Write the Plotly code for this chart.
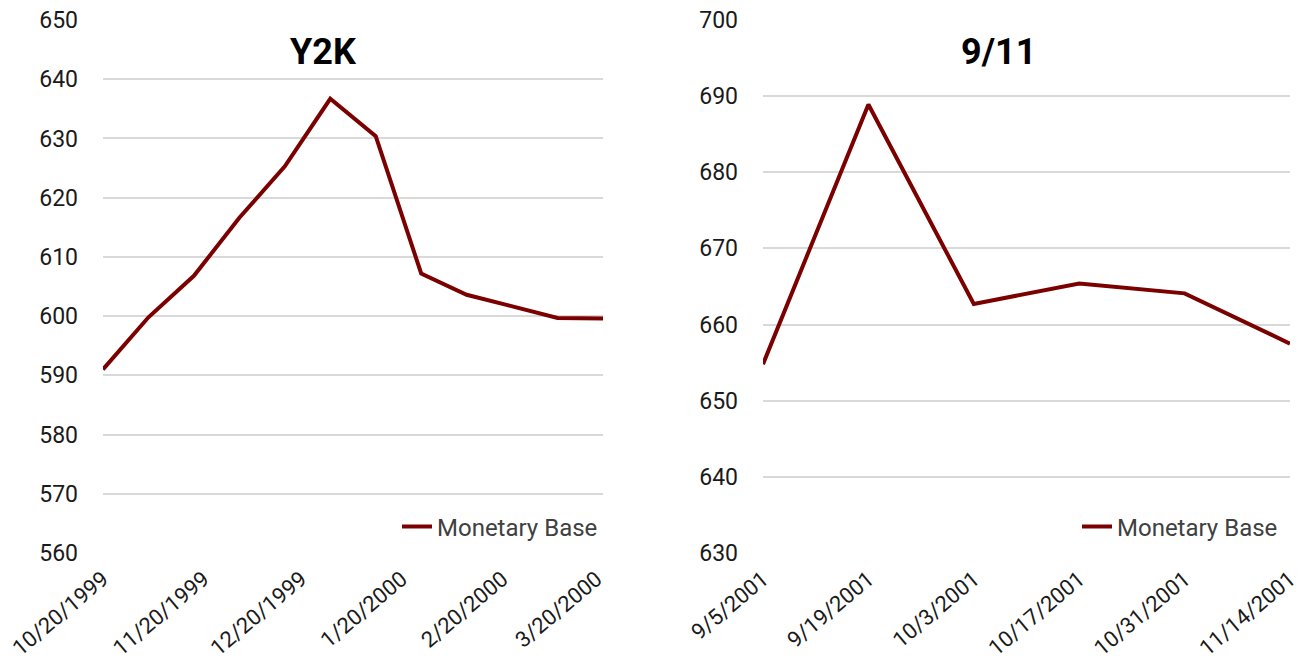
import plotly.graph_objects as go

# Monetary base around two liquidity events (billions of dollars)
y2k_dates = ["1999-10-20", "1999-11-03", "1999-11-17", "1999-12-01", "1999-12-15",
             "1999-12-29", "2000-01-12", "2000-01-26", "2000-02-09", "2000-02-23",
             "2000-03-08", "2000-03-22"]
y2k_values = [591.0, 599.8, 606.8, 616.6, 625.3, 636.7, 630.4, 607.2, 603.6, 601.6, 599.7, 599.6]
y2k_ticks = ["1999-10-20", "1999-11-20", "1999-12-20", "2000-01-20", "2000-02-20", "2000-03-20"]

sep11_dates = ["2001-09-05", "2001-09-19", "2001-10-03", "2001-10-17", "2001-10-31", "2001-11-14"]
sep11_values = [654.8, 688.9, 662.7, 665.4, 664.1, 657.5]

series_name = "Monetary Base"
line_color = "#7b0000"
grid_color = "#d9d9d9"
font_family = "Roboto, 'Open Sans', sans-serif"

W, H = 1300, 662
y_dom = [(H - 553) / H, (H - 20) / H]

fig = go.Figure()
fig.add_trace(go.Scatter(x=y2k_dates, y=y2k_values, mode="lines", name=series_name,
                         line=dict(color=line_color, width=4), showlegend=True,
                         xaxis="x", yaxis="y", legend="legend"))
fig.add_trace(go.Scatter(x=sep11_dates, y=sep11_values, mode="lines", name=series_name,
                         line=dict(color=line_color, width=4), showlegend=True,
                         xaxis="x2", yaxis="y2", legend="legend2"))

def tick_text(d):
    y, m, dd = d.split("-")
    return f"{int(m)}/{int(dd)}/{y}"

xcommon = dict(type="date", showgrid=False, zeroline=False, showline=False,
               tickangle=-40, ticks="", ticklabelstandoff=8, automargin=False,
               ticklabeloverflow="allow",
               tickfont=dict(family=font_family, size=22, color="#1a1a1a"))
ycommon = dict(showgrid=True, gridcolor=grid_color, gridwidth=1.5, zeroline=False,
               showline=False, dtick=10, ticks="", ticklabelstandoff=24, automargin=False,
               tickfont=dict(family=font_family, size=23, color="#1a1a1a"))

legend_font = dict(family=font_family, size=24, color="#404040")

fig.update_layout(
    width=W, height=H, autosize=False,
    margin=dict(l=0, r=0, t=0, b=0),
    paper_bgcolor="white", plot_bgcolor="white",
    font=dict(family=font_family),
    showlegend=True,
    xaxis=dict(xcommon, domain=[103 / W, 603 / W], anchor="y",
               range=[y2k_dates[0], y2k_dates[-1]],
               tickvals=y2k_ticks, ticktext=[tick_text(d) for d in y2k_ticks]),
    yaxis=dict(ycommon, domain=y_dom, anchor="x", range=[560, 650], tick0=560),
    xaxis2=dict(xcommon, domain=[763 / W, 1290 / W], anchor="y2",
                range=[sep11_dates[0], sep11_dates[-1]],
                tickvals=sep11_dates, ticktext=[tick_text(d) for d in sep11_dates]),
    yaxis2=dict(ycommon, domain=y_dom, anchor="x2", range=[630, 700], tick0=630),
    legend=dict(x=603 / W, y=(H - 527) / H, xanchor="right", yanchor="middle",
                bgcolor="rgba(0,0,0,0)", font=legend_font, itemwidth=30),
    legend2=dict(x=1283 / W, y=(H - 527) / H, xanchor="right", yanchor="middle",
                 bgcolor="rgba(0,0,0,0)", font=legend_font, itemwidth=30),
    annotations=[
        dict(text="<b>Y2K</b>", x=323 / W, y=(H - 52) / H, xref="paper", yref="paper",
             showarrow=False, xanchor="center", yanchor="middle",
             font=dict(family=font_family, size=36, color="#000000")),
        dict(text="<b>9/11</b>", x=998 / W, y=(H - 52) / H, xref="paper", yref="paper",
             showarrow=False, xanchor="center", yanchor="middle",
             font=dict(family=font_family, size=36, color="#000000")),
    ],
)

fig.write_html("out.html")
